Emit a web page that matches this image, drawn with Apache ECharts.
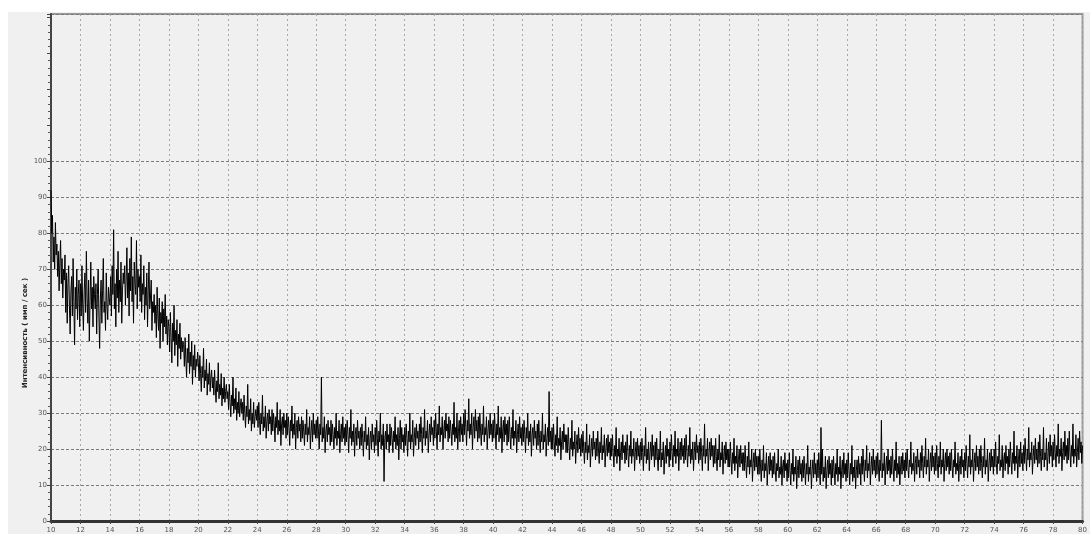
<!DOCTYPE html>
<html>
<head>
<meta charset="utf-8">
<script src="https://cdn.jsdelivr.net/npm/echarts@6/dist/echarts.min.js"></script>
<style>
  html, body { margin: 0; padding: 0; background: #fff; }
  #grafico { width: 1090px; height: 534px; }
</style>
</head>
<body>
<div id="grafico"></div>
<script>
// Escaneo 2θ: inicio y paso
const inicio2Theta = 10;
const paso2Theta = 0.05;

// Intensidad (имп / сек), una fila por grado (20 lecturas)
const intensidad = [
  92, 80, 85, 72, 79, 70, 83, 74, 77, 68, 75, 64, 72, 78, 66, 73, 62, 70, 67, 74,
  58, 69, 55, 66, 71, 60, 52, 64, 68, 57, 73, 61, 49, 65, 59, 70, 56, 63, 67, 54,
  66, 57, 71, 60, 53, 64, 69, 58, 75, 62, 55, 67, 50, 61, 72, 59, 65, 54, 68, 63,
  59, 66, 52, 63, 70, 57, 48, 62, 67, 55, 64, 73, 58, 61, 53, 69, 60, 56, 65, 62,
  60, 68, 57, 71, 63, 81, 59, 66, 54, 70, 62, 75, 58, 67, 61, 72, 55, 64, 69, 66,
  71, 60, 67, 76, 62, 69, 57, 73, 64, 79, 61, 68, 55, 72, 66, 63, 78, 59, 70, 65,
  68, 61, 74, 58, 66, 63, 71, 56, 65, 60, 69, 54, 64, 72, 59, 62, 67, 53, 61, 58,
  63, 55, 60, 51, 65, 57, 53, 62, 48, 58, 55, 61, 50, 59, 54, 63, 52, 57, 49, 56,
  54, 47, 58, 51, 44, 55, 50, 60, 46, 53, 49, 56, 43, 52, 48, 55, 45, 51, 47, 50,
  49, 43, 51, 45, 40, 48, 44, 52, 41, 47, 43, 50, 38, 46, 42, 49, 40, 45, 43, 47,
  44, 39, 46, 41, 36, 43, 40, 48, 37, 42, 39, 45, 35, 41, 38, 44, 36, 40, 42, 37,
  40, 35, 42, 37, 33, 39, 36, 44, 34, 38, 35, 41, 32, 37, 34, 40, 33, 36, 38, 34,
  36, 31, 38, 33, 29, 35, 32, 40, 30, 34, 31, 37, 28, 33, 30, 36, 29, 32, 34, 30,
  33, 28, 35, 30, 26, 32, 29, 38, 27, 31, 28, 34, 25, 30, 27, 33, 26, 29, 31, 28,
  32, 26, 33, 28, 24, 30, 27, 35, 25, 29, 26, 32, 23, 28, 30, 25, 31, 27, 29, 24,
  31, 25, 30, 27, 22, 29, 26, 33, 24, 28, 25, 31, 21, 27, 29, 24, 30, 26, 28, 23,
  30, 24, 29, 26, 21, 28, 25, 32, 23, 27, 24, 30, 20, 26, 28, 23, 29, 25, 27, 22,
  29, 23, 28, 25, 21, 27, 24, 31, 22, 26, 24, 29, 20, 25, 28, 22, 30, 24, 27, 23,
  28, 23, 29, 25, 20, 27, 24, 40, 22, 26, 23, 29, 19, 25, 27, 22, 28, 24, 26, 21,
  28, 22, 27, 24, 20, 26, 23, 30, 21, 25, 23, 28, 19, 24, 27, 22, 29, 23, 26, 21,
  27, 22, 28, 24, 19, 26, 23, 31, 21, 25, 22, 27, 18, 24, 26, 21, 28, 23, 25, 20,
  26, 21, 27, 23, 18, 25, 22, 29, 20, 24, 21, 26, 17, 23, 25, 20, 27, 22, 24, 19,
  26, 21, 28, 23, 18, 25, 22, 30, 20, 24, 21, 27, 11, 23, 25, 20, 27, 22, 24, 19,
  27, 21, 26, 23, 19, 25, 22, 29, 20, 24, 21, 26, 17, 23, 28, 20, 26, 22, 24, 19,
  26, 21, 27, 23, 18, 25, 22, 30, 20, 24, 22, 28, 18, 23, 26, 21, 27, 23, 25, 20,
  27, 22, 29, 24, 19, 26, 23, 31, 21, 25, 23, 28, 19, 24, 27, 22, 29, 24, 26, 21,
  28, 23, 30, 25, 20, 27, 24, 32, 22, 26, 24, 29, 20, 25, 28, 23, 30, 25, 27, 22,
  29, 23, 28, 25, 21, 27, 24, 33, 22, 26, 23, 30, 20, 25, 28, 22, 29, 24, 27, 22,
  30, 24, 31, 26, 21, 28, 25, 34, 23, 27, 24, 30, 20, 26, 29, 23, 31, 25, 28, 22,
  29, 23, 30, 25, 21, 27, 24, 32, 22, 26, 24, 29, 20, 25, 28, 23, 30, 24, 27, 22,
  28, 23, 30, 25, 20, 27, 24, 32, 22, 26, 23, 29, 19, 25, 28, 22, 29, 24, 27, 21,
  28, 22, 29, 24, 20, 26, 23, 31, 21, 25, 23, 28, 19, 24, 27, 22, 29, 23, 26, 21,
  27, 22, 28, 24, 19, 26, 23, 30, 21, 25, 22, 27, 18, 24, 26, 21, 28, 23, 25, 20,
  27, 21, 28, 23, 19, 25, 22, 30, 20, 24, 22, 27, 18, 23, 26, 21, 36, 22, 25, 20,
  26, 20, 27, 22, 18, 24, 21, 29, 19, 23, 21, 26, 17, 22, 25, 20, 27, 22, 24, 19,
  24, 19, 26, 21, 17, 23, 20, 28, 18, 22, 20, 25, 16, 21, 24, 19, 26, 20, 23, 18,
  24, 19, 25, 20, 16, 22, 19, 27, 17, 21, 19, 24, 15, 20, 23, 18, 25, 20, 22, 17,
  23, 18, 25, 20, 16, 22, 19, 26, 17, 21, 19, 24, 15, 20, 23, 18, 24, 19, 22, 17,
  23, 18, 24, 19, 15, 21, 18, 26, 16, 20, 18, 23, 14, 19, 22, 17, 24, 19, 21, 16,
  22, 17, 24, 19, 15, 21, 18, 25, 16, 20, 18, 23, 14, 19, 22, 17, 23, 18, 21, 16,
  22, 17, 23, 19, 14, 21, 18, 26, 16, 20, 17, 22, 14, 19, 22, 17, 24, 18, 21, 15,
  22, 17, 23, 18, 14, 20, 17, 25, 15, 19, 17, 22, 13, 18, 21, 16, 23, 18, 20, 15,
  22, 17, 24, 19, 15, 21, 18, 25, 16, 20, 18, 23, 14, 19, 22, 17, 23, 18, 21, 16,
  23, 17, 24, 19, 15, 21, 18, 26, 16, 20, 17, 22, 14, 19, 22, 17, 24, 19, 21, 16,
  22, 17, 23, 19, 14, 21, 18, 27, 16, 20, 18, 23, 14, 19, 22, 17, 23, 18, 21, 15,
  21, 16, 23, 18, 14, 20, 17, 24, 15, 19, 17, 22, 13, 18, 21, 16, 22, 17, 20, 15,
  20, 15, 22, 17, 13, 19, 16, 23, 14, 18, 16, 21, 12, 17, 20, 15, 21, 16, 19, 14,
  19, 14, 21, 16, 12, 18, 15, 22, 13, 17, 15, 20, 11, 16, 19, 14, 20, 15, 18, 13,
  18, 13, 20, 15, 11, 17, 14, 21, 12, 16, 14, 19, 10, 15, 18, 13, 19, 14, 17, 12,
  18, 13, 19, 14, 11, 16, 14, 20, 12, 15, 13, 18, 10, 15, 17, 12, 19, 14, 16, 11,
  17, 12, 19, 14, 10, 16, 13, 20, 11, 15, 13, 18, 9, 14, 17, 12, 18, 13, 16, 11,
  17, 12, 18, 14, 10, 16, 13, 21, 11, 15, 13, 17, 9, 14, 17, 12, 19, 13, 16, 11,
  17, 12, 19, 14, 10, 26, 13, 20, 11, 15, 12, 18, 9, 14, 17, 12, 18, 13, 16, 10,
  17, 12, 18, 14, 10, 16, 13, 20, 11, 15, 13, 18, 9, 14, 17, 12, 19, 13, 16, 11,
  17, 12, 19, 14, 10, 16, 13, 21, 11, 15, 12, 17, 9, 14, 17, 12, 18, 13, 16, 10,
  18, 13, 20, 15, 11, 17, 14, 21, 12, 16, 14, 19, 10, 15, 18, 13, 20, 14, 17, 12,
  18, 13, 19, 15, 11, 17, 14, 28, 12, 16, 14, 19, 10, 15, 18, 13, 20, 14, 17, 12,
  18, 13, 20, 15, 11, 17, 14, 22, 12, 16, 13, 18, 10, 15, 18, 13, 19, 14, 17, 12,
  19, 14, 20, 15, 12, 17, 15, 22, 13, 16, 14, 19, 11, 16, 18, 13, 20, 15, 17, 12,
  19, 14, 21, 16, 12, 18, 15, 23, 13, 17, 15, 20, 11, 16, 19, 14, 21, 15, 18, 13,
  19, 14, 21, 16, 12, 18, 15, 22, 13, 17, 15, 20, 11, 16, 19, 14, 20, 15, 18, 13,
  19, 14, 20, 15, 12, 17, 15, 22, 13, 16, 14, 19, 11, 16, 18, 13, 20, 15, 17, 12,
  19, 14, 21, 16, 12, 18, 15, 24, 13, 17, 15, 20, 11, 16, 19, 14, 21, 15, 18, 13,
  20, 14, 21, 16, 12, 18, 15, 23, 13, 17, 15, 20, 11, 16, 19, 14, 20, 15, 18, 13,
  20, 15, 22, 16, 13, 18, 16, 24, 14, 17, 15, 21, 12, 17, 19, 14, 21, 16, 18, 13,
  20, 15, 22, 17, 13, 19, 16, 25, 14, 18, 16, 21, 12, 17, 20, 15, 22, 16, 19, 14,
  21, 16, 23, 18, 14, 20, 17, 26, 15, 19, 17, 22, 13, 18, 21, 16, 23, 17, 20, 15,
  22, 16, 24, 18, 14, 20, 17, 26, 15, 19, 17, 23, 14, 18, 22, 16, 24, 18, 21, 15,
  22, 17, 24, 19, 15, 21, 18, 27, 16, 20, 18, 23, 14, 19, 22, 17, 25, 18, 21, 16,
  23, 17, 25, 19, 15, 21, 18, 27, 16, 20, 18, 24, 15, 19, 23, 17, 25, 19, 22, 16,
  21
];

// Marcas del eje Y con etiqueta (el resto del eje queda sin texto)
const etiquetasY = [0, 10, 20, 30, 40, 50, 60, 70, 80, 90, 100];
const tituloY = 'Интенсивность ( имп / сек )';

const datos = intensidad.map((v, i) => [+(inicio2Theta + i * paso2Theta).toFixed(2), v]);
const maxEtiquetaY = etiquetasY[etiquetasY.length - 1];

const chart = echarts.init(document.getElementById('grafico'));

// Colores de las líneas horizontales: solo hasta 100
const coloresSplitY = [];
for (let v = 0; v <= 140; v += 10) {
    coloresSplitY.push(v <= maxEtiquetaY ? '#7a7a7a' : 'rgba(0,0,0,0)');
}

const option = {
    backgroundColor: '#ffffff',
    animation: false,
    graphic: [
        {
            type: 'rect',
            z: -10,
            silent: true,
            shape: {x: 8, y: 12, width: 1082, height: 522},
            style: {fill: '#f0f0f0'}
        },
        {
            type: 'text',
            x: 25,
            y: 333,
            rotation: Math.PI / 2,
            style: {
                text: tituloY,
                fontSize: 7,
                fontWeight: 'bold',
                fontFamily: 'DejaVu Sans',
                fill: '#222',
                align: 'center',
                verticalAlign: 'middle'
            }
        }
    ],
    grid: {
        left: 51,
        right: 3,
        top: 14,
        bottom: 11,
        show: true,
        backgroundColor: '#f0f0f0',
        borderColor: '#9a9a9a',
        borderWidth: 2
    },
    xAxis: {
        type: 'value',
        min: 10,
        max: 80,
        interval: 2,
        axisLine: {show: true, onZero: false, lineStyle: {color: '#333', width: 3}},
        axisTick: {show: true, length: 3, lineStyle: {color: '#444'}},
        axisLabel: {fontSize: 7, color: '#555', margin: 6, fontFamily: 'DejaVu Sans'},
        splitLine: {show: true, lineStyle: {color: '#a8a8a8', type: [2, 3], width: 1}}
    },
    yAxis: {
        type: 'value',
        min: 0,
        max: 141,
        interval: 10,
        axisLine: {show: true, lineStyle: {color: '#444', width: 2}},
        axisTick: {show: true, length: 4, lineStyle: {color: '#444'}},
        minorTick: {show: true, splitNumber: 5, length: 3, lineStyle: {color: '#555'}},
        axisLabel: {
            fontSize: 7,
            color: '#555',
            margin: 4,
            fontFamily: 'DejaVu Sans',
            formatter: v => (etiquetasY.includes(v) ? String(v) : '')
        },
        splitLine: {show: true, lineStyle: {color: coloresSplitY, type: [3, 2], width: 1}}
    },
    series: [
        {
            type: 'line',
            data: datos,
            showSymbol: false,
            sampling: false,
            lineStyle: {color: '#000', width: 1},
            silent: true
        }
    ]
};

chart.setOption(option);
</script>
</body>
</html>
